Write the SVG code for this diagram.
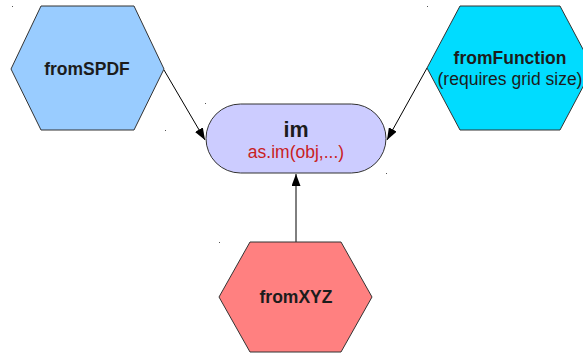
<svg xmlns="http://www.w3.org/2000/svg" width="583" height="353" viewBox="0 0 583 353">
  <style>
    .hex { stroke: #333333; stroke-width: 1; }
    .title { font-family: "Liberation Sans", Arial, sans-serif; font-weight: bold; font-size: 17.5px; fill: #1c1c1c; text-anchor: middle; }
    .sub { font-family: "Liberation Sans", Arial, sans-serif; font-size: 17.5px; fill: #1c1c1c; text-anchor: middle; }
    .call { font-family: "Liberation Sans", Arial, sans-serif; font-size: 17.5px; fill: #c9211e; text-anchor: middle; }
    .edge { stroke: #000000; stroke-width: 1; fill: none; marker-end: url(#arrow); }
    .dot { fill: #555555; }
  </style>
  <defs>
    <marker id="arrow" markerWidth="12" markerHeight="9" refX="12" refY="4.5" orient="auto" markerUnits="userSpaceOnUse">
      <path d="M0,0 L12,4.5 L0,9 Z" fill="#000000"/>
    </marker>
  </defs>
  <rect width="583" height="353" fill="#ffffff"/>

  <!-- tiny anchor marks -->
  <g id="marks">
    <rect class="dot" x="12" y="6" width="1" height="1"/>
    <rect class="dot" x="165" y="130" width="1" height="1"/>
    <rect class="dot" x="427" y="6" width="1" height="1"/>
    <rect class="dot" x="205" y="103" width="1" height="1"/>
    <rect class="dot" x="386" y="173" width="1" height="1"/>
    <rect class="dot" x="219" y="242" width="1" height="1"/>
  </g>

  <g id="connectors">
    <line class="edge" x1="164" y1="70" x2="205" y2="140"/>
    <line class="edge" x1="427" y1="68" x2="387" y2="140"/>
    <line class="edge" x1="296" y1="242" x2="296" y2="174"/>
  </g>

  <g id="fromSPDF">
    <polygon class="hex" points="41,6 134,6 164,69 134,130 41,130 11,69" fill="#99ccff"/>
    <text class="title" x="87" y="75">fromSPDF</text>
  </g>

  <g id="fromFunction">
    <polygon class="hex" points="460,6 560,6 593,68 560,130 460,130 427,68" fill="#00dcff"/>
    <text class="title" x="510" y="64">fromFunction</text>
    <text class="sub" x="510" y="85">(requires grid size)</text>
  </g>

  <g id="im">
    <rect x="206" y="104" width="180" height="69" rx="34.5" ry="34.5" fill="#ccccff" stroke="#333333" stroke-width="1"/>
    <text class="title" x="296" y="137" style="font-size:21.5px">im</text>
    <text class="call" x="296" y="158">as.im(obj,...)</text>
  </g>

  <g id="fromXYZ">
    <polygon class="hex" points="250,242 341,242 372,297 341,352 250,352 219,297" fill="#ff8080"/>
    <text class="title" x="296" y="303">fromXYZ</text>
  </g>
</svg>
